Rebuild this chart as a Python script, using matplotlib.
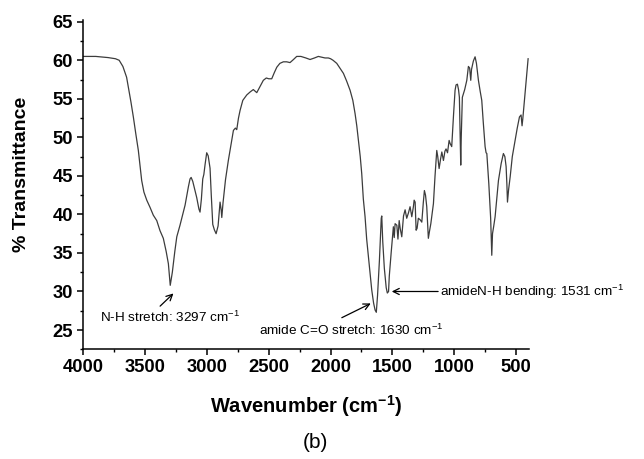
import matplotlib
matplotlib.use('Agg')
import matplotlib.pyplot as plt
import numpy as np
from matplotlib.ticker import MultipleLocator

plt.rcParams['font.family'] = ['Liberation Sans', 'DejaVu Sans']
plt.rcParams['mathtext.fontset'] = 'custom'
plt.rcParams['mathtext.rm'] = 'Liberation Sans'
plt.rcParams['mathtext.it'] = 'Liberation Sans:italic'
plt.rcParams['mathtext.bf'] = 'Liberation Sans:bold'

# FTIR spectrum (wavenumber cm-1, % transmittance)
wavenumber = [4000, 3900, 3800, 3740, 3710, 3680, 3650, 3636, 3615, 3595, 3575, 3555,
              3540, 3528, 3510, 3487, 3460, 3434, 3406, 3380, 3353, 3330, 3312, 3297,
              3280, 3260, 3244, 3218, 3204, 3177, 3150, 3137, 3128, 3115, 3100, 3083,
              3065, 3056, 3045, 3034, 3025, 3015, 3002, 2990, 2975, 2965, 2953, 2940,
              2926, 2910, 2894, 2885, 2880, 2870, 2850, 2827, 2806, 2786, 2770, 2759,
              2745, 2732, 2710, 2678, 2650, 2625, 2597, 2570, 2544, 2520, 2500, 2476,
              2455, 2435, 2410, 2382, 2355, 2328, 2300, 2274, 2240, 2200, 2166, 2130,
              2099, 2070, 2045, 2018, 2000, 1980, 1950, 1925, 1896, 1870, 1842, 1820,
              1802, 1788, 1775, 1760, 1748, 1735, 1721, 1708, 1694, 1680, 1667, 1652,
              1640, 1630, 1620, 1605, 1590, 1586, 1578, 1565, 1550, 1541, 1531, 1525,
              1510, 1492, 1485, 1478, 1464, 1455, 1445, 1437, 1424, 1410, 1397, 1384,
              1370, 1357, 1343, 1330, 1324, 1316, 1308, 1300, 1290, 1275, 1262, 1250,
              1241, 1232, 1222, 1209, 1200, 1189, 1168, 1155, 1141, 1133, 1122, 1110,
              1100, 1087, 1075, 1066, 1054, 1041, 1033, 1020, 1005, 993, 985, 974,
              965, 958, 951, 947, 943, 934, 915, 898, 885, 875, 866, 860,
              845, 831, 820, 804, 790, 777, 765, 750, 742, 736, 720, 705,
              696, 690, 680, 669, 655, 642, 620, 602, 590, 580, 574, 569,
              560, 547, 530, 507, 490, 472, 459, 451, 445, 434, 420, 402]
transmittance = [60.5, 60.5, 60.35, 60.2, 60.0, 59.2, 57.8, 56.5, 54.6, 52.6, 50.4, 48.3,
                 46.2, 44.4, 42.9, 41.85, 40.9, 39.9, 39.2, 37.9, 36.9, 35.2, 33.6, 30.8,
                 32.5, 35.2, 37.1, 38.6, 39.5, 41.2, 43.6, 44.6, 44.8, 44.3, 43.3, 42.2,
                 40.7, 40.3, 42.0, 44.6, 45.2, 46.5, 48.0, 47.6, 46.0, 42.5, 38.7, 38.0,
                 37.5, 38.5, 41.6, 40.6, 39.6, 41.5, 44.5, 47.0, 49.0, 50.9, 51.2, 51.0,
                 52.5, 53.5, 54.8, 55.5, 55.9, 56.2, 55.8, 56.6, 57.4, 57.7, 57.6, 57.6,
                 58.4, 59.1, 59.6, 59.8, 59.8, 59.7, 60.1, 60.5, 60.5, 60.3, 60.1, 60.3,
                 60.5, 60.4, 60.3, 60.3, 60.2, 60.0, 59.6, 59.0, 58.3, 57.3, 56.1, 54.8,
                 53.1, 51.5, 49.6, 47.5, 45.3, 42.0, 39.7, 36.8, 34.5, 32.2, 30.2, 28.5,
                 27.6, 27.3, 29.5, 34.0, 39.5, 39.8, 36.5, 33.0, 30.5, 29.8, 30.0, 32.0,
                 35.0, 38.4, 37.0, 38.8, 38.6, 36.8, 39.2, 38.2, 37.1, 39.8, 40.6, 39.5,
                 40.2, 41.0, 39.7, 41.0, 41.85, 41.6, 37.95, 38.2, 39.5, 39.3, 39.0, 41.5,
                 43.1, 42.5, 41.0, 36.9, 37.8, 38.8, 41.4, 45.0, 48.3, 47.5, 45.95, 47.2,
                 48.1, 47.0, 48.2, 48.5, 48.0, 49.6, 49.2, 48.8, 53.0, 56.1, 56.8, 56.9,
                 56.2, 55.2, 50.0, 46.4, 50.0, 55.2, 56.2, 57.4, 59.2, 59.0, 57.4, 58.8,
                 59.9, 60.45, 59.6, 57.4, 56.0, 54.8, 52.0, 48.8, 48.0, 47.9, 44.0, 39.5,
                 34.7, 37.5, 38.5, 39.7, 42.2, 44.4, 46.6, 47.9, 47.5, 46.2, 44.0, 41.6,
                 43.2, 44.9, 47.5, 49.6, 51.2, 52.65, 52.9, 51.5, 52.4, 54.4, 57.0, 60.2]

# annotations: text, text anchor (wn, T), arrow tail, arrow head
ann_labels = ['N-H stretch: 3297 cm$^{-1}$',
              'amide C=O stretch: 1630 cm$^{-1}$',
              'amideN-H bending: 1531 cm$^{-1}$']
ann_text_pos = [(3865, 26.6), (2576, 25.0), (1114, 30.0)]
ann_tail = [(3379, 28.1), (1909, 26.6), (1130, 30.0)]
ann_head = [(3271, 29.75), (1675, 28.45), (1505, 30.0)]

fig = plt.figure(figsize=(6.44, 4.59), dpi=100)
ax = fig.add_axes([0.1294, 0.239, 0.692, 0.717])

ax.plot(wavenumber, transmittance, color='#3c3c3c', lw=0.9)

ax.set_xlim(4000, 395)
ax.set_ylim(22.5, 65.2)
ax.xaxis.set_major_locator(MultipleLocator(500))
ax.xaxis.set_minor_locator(MultipleLocator(250))
ax.yaxis.set_major_locator(MultipleLocator(5))
ax.yaxis.set_minor_locator(MultipleLocator(2.5))

for s in ['top', 'right']:
    ax.spines[s].set_visible(False)
for s in ['left', 'bottom']:
    ax.spines[s].set_linewidth(1.1)

ax.tick_params(which='major', direction='out', length=4.3, width=1.1, pad=3)
ax.tick_params(which='minor', direction='out', length=2.3, width=1.0)
for lab in ax.get_xticklabels() + ax.get_yticklabels():
    lab.set_fontsize(13.2)
    lab.set_fontweight('bold')

ax.set_xlabel(r'Wavenumber (cm$^{\mathbf{-1}}$)', fontsize=14.5, fontweight='bold', labelpad=12)
ax.set_ylabel('% Transmittance', fontsize=14, fontweight='bold')
ax.yaxis.set_label_coords(-0.12, 0.53)

for lab, tp, tail, head in zip(ann_labels, ann_text_pos, ann_tail, ann_head):
    ax.text(tp[0], tp[1], lab, fontsize=9.7, ha='left', va='center')
    ax.annotate('', xy=head, xytext=tail,
                arrowprops=dict(arrowstyle='->', color='black', lw=0.9,
                                shrinkA=0, shrinkB=0, mutation_scale=11))

fig.text(0.49, 0.035, '(b)', fontsize=15, ha='center', va='center')

fig.savefig('out.png', dpi=100)
